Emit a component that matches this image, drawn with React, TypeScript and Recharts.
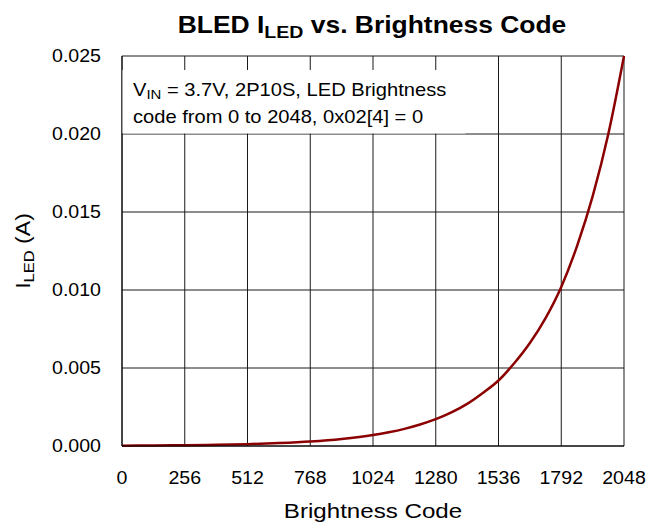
import React from 'react';
import { LineChart, Line, XAxis, YAxis, CartesianGrid } from 'recharts';

const codes = [0, 128, 256, 384, 512, 640, 768, 896, 1024, 1088, 1152, 1216, 1280, 1344, 1408, 1472, 1536, 1600, 1664, 1728, 1792, 1856, 1920, 1984, 2048];
const iled = [0.00002, 0.00003, 0.00005, 0.00008, 0.00012, 0.00019, 0.00029, 0.00045, 0.0007, 0.00088, 0.0011, 0.00138, 0.00172, 0.00215, 0.0027, 0.0034, 0.0042, 0.0053, 0.0066, 0.0082, 0.0102, 0.0128, 0.016, 0.02, 0.025];
const xTicks = [0, 256, 512, 768, 1024, 1280, 1536, 1792, 2048];
const yTicks = [0, 0.005, 0.01, 0.015, 0.02, 0.025];

const W = 648;
const H = 527;
const FONT = '"Liberation Sans", Arial, sans-serif';
const SX = 1.12; // the reference text is a bit wide

const chartData = codes.map((c, i) => ({ code: c, iled: iled[i] }));

const XTick = ({ x, payload }: any) => (
  <text
    transform={`translate(${x},484) scale(${SX},1)`}
    textAnchor="middle"
    fontFamily={FONT}
    fontSize={17.5}
    fill="#000"
  >
    {payload.value}
  </text>
);

const YTick = ({ y, payload }: any) => (
  <text
    transform={`translate(101,${y + 6}) scale(${SX},1)`}
    textAnchor="end"
    fontFamily={FONT}
    fontSize={17.5}
    fill="#000"
  >
    {Number(payload.value).toFixed(3)}
  </text>
);

export default function App() {
  return (
    <div style={{ position: 'absolute', left: 0, top: 0, width: W, height: H, background: '#fff' }}>
      <LineChart
        width={W}
        height={H}
        data={chartData}
        margin={{ top: 56, right: 24, bottom: 0, left: 0 }}
      >
        <CartesianGrid stroke="#1a1a1a" strokeWidth={1} />
        <XAxis
          dataKey="code"
          type="number"
          domain={[0, 2048]}
          ticks={xTicks}
          height={81}
          tickLine={false}
          axisLine={{ stroke: '#000' }}
          tick={<XTick />}
          interval={0}
        />
        <YAxis
          type="number"
          domain={[0, 0.025]}
          ticks={yTicks}
          width={122}
          tickLine={false}
          axisLine={{ stroke: '#000' }}
          tick={<YTick />}
          interval={0}
        />
        <Line
          type="monotone"
          dataKey="iled"
          stroke="#8b0000"
          strokeWidth={2.5}
          dot={false}
          isAnimationActive={false}
        />
      </LineChart>

      <svg
        width={W}
        height={H}
        style={{ position: 'absolute', left: 0, top: 0, pointerEvents: 'none' }}
        fontFamily={FONT}
      >
        {/* title */}
        <text transform={`translate(372,33) scale(1.15,1)`} textAnchor="middle" fontSize={23} fontWeight="bold" fill="#000">
          BLED I<tspan fontSize={17} dy={5}>LED</tspan>
          <tspan dy={-5}> vs. Brightness Code</tspan>
        </text>

        {/* axis titles */}
        <text transform={`translate(373,518) scale(1.15,1)`} textAnchor="middle" fontSize={21} fill="#000">
          Brightness Code
        </text>
        <text transform={`translate(30,251) rotate(-90) scale(1.1,1)`} textAnchor="middle" fontSize={21} fill="#000">
          I<tspan fontSize={15} dy={4}>LED</tspan>
          <tspan dy={-4}> (A)</tspan>
        </text>

        {/* note box */}
        <rect x={122.5} y={70} width={343} height={63.5} fill="#fff" />
        <text transform={`translate(133,96) scale(1.15,1)`} fontSize={17.5} fill="#000">
          V<tspan fontSize={13} dy={3}>IN</tspan>
          <tspan dy={-3}> = 3.7V, 2P10S, LED Brightness</tspan>
        </text>
        <text transform={`translate(133,123) scale(1.15,1)`} fontSize={17.5} fill="#000">
          code from 0 to 2048, 0x02[4] = 0
        </text>
      </svg>
    </div>
  );
}
